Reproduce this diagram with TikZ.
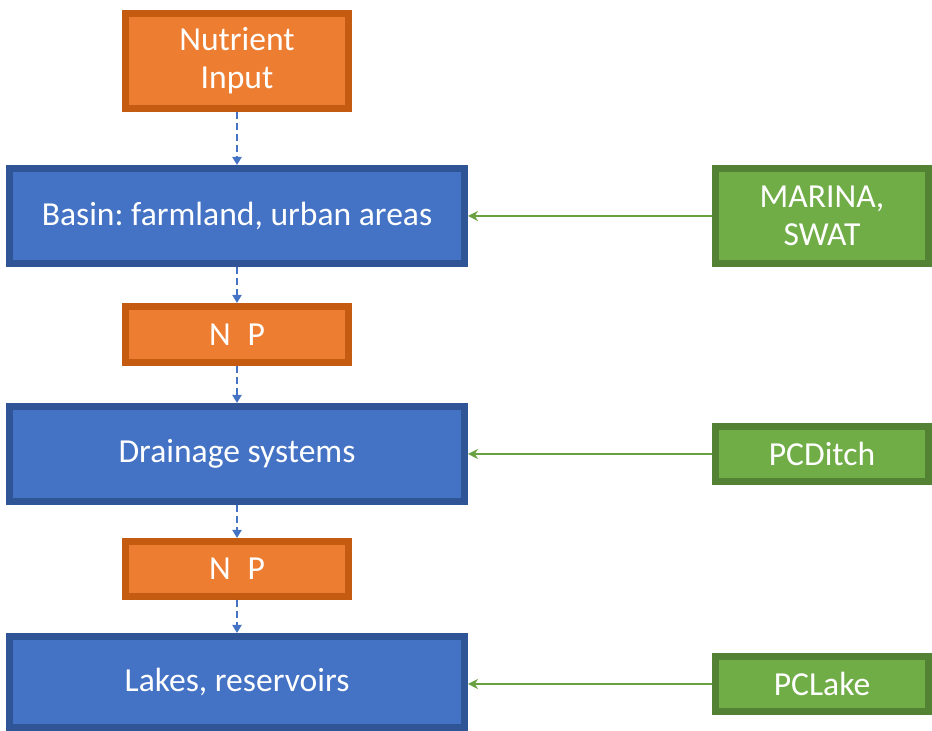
\documentclass[tikz,border=0pt]{standalone}
\usepackage{fontspec}
\setmainfont{Carlito}
\frenchspacing
\usetikzlibrary{arrows.meta}

\definecolor{npfill}{HTML}{ED7D31}
\definecolor{npline}{HTML}{C55A11}
\definecolor{stagefill}{HTML}{4472C4}
\definecolor{stageline}{HTML}{2F5597}
\definecolor{modelfill}{HTML}{70AD47}
\definecolor{modelline}{HTML}{548235}

\begin{document}
\begin{tikzpicture}[x=0.5pt, y=0.5pt,
    box/.style={line width=3.5pt, inner sep=0pt, align=center, text=white,
      font=\fontsize{16.8}{19}\selectfont},
    nutrient/.style={box, fill=npfill, draw=npline, minimum width=111.5pt},
    stage/.style={box, fill=stagefill, draw=stageline, minimum width=227.5pt},
    model/.style={box, fill=modelfill, draw=modelline, minimum width=106.5pt},
    flow/.style={stagefill, line width=1.1pt, dash pattern=on 3.5pt off 2pt,
      -{Triangle[length=4pt,width=4.5pt]}},
    feed/.style={modelfill!70!modelline, line width=1.2pt,
      -{Stealth[length=5pt,width=5pt]}}]

      \useasboundingbox (0,0) rectangle (932,731);

      \node[nutrient, minimum height=47.5pt] (input) at (237,670) {Nutrient\\Input};
      \node[stage, minimum height=47.5pt] (basin) at (237,515) {Basin: farmland, urban areas};
      \node[nutrient, minimum height=28pt] (np1) at (237,396.5) {N\enspace P};
      \node[stage, minimum height=47.5pt] (drain) at (237,277) {Drainage systems};
      \node[nutrient, minimum height=27.5pt] (np2) at (237,162) {N\enspace P};
      \node[stage, minimum height=45.5pt] (lakes) at (237,49) {Lakes, reservoirs};

      \node[model, minimum height=47.5pt] (marina) at (822,515) {MARINA,\\SWAT};
      \node[model, minimum height=27.5pt] (ditch) at (822,277) {PCDitch};
      \node[model, minimum height=27.5pt] (pclake) at (822,47) {PCLake};

      \draw[flow] (input) -- (basin);
      \draw[flow] (basin) -- (np1);
      \draw[flow] (np1) -- (drain);
      \draw[flow] (drain) -- (np2);
      \draw[flow] (np2) -- (lakes);

      \draw[feed] (marina) -- (basin);
      \draw[feed] (ditch) -- (drain);
      \draw[feed] (pclake) -- (pclake -| lakes.east);
    \end{tikzpicture}
\end{document}
